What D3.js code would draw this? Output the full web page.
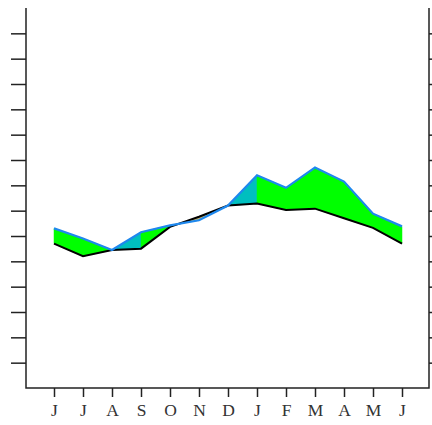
<!DOCTYPE html>
<html>
<head>
<meta charset="utf-8">
<script src="https://cdn.jsdelivr.net/npm/d3@7"></script>
<style>
  body { margin: 0; background: #fff; }
  svg { display: block; }
</style>
</head>
<body>
<script>
const width = 432;
const height = 425;
const frameL = 26, frameR = 429, frameT = 8, frameB = 388;

const months = ["J", "J", "A", "S", "O", "N", "D", "J", "F", "M", "A", "M", "J"];
const upper = [6.3, 5.9, 5.45, 6.15, 6.42, 6.62, 7.2, 8.4, 7.9, 8.7, 8.15, 6.88, 6.38];
const lower = [5.7, 5.2, 5.45, 5.5, 6.36, 6.76, 7.2, 7.28, 7.03, 7.08, 6.7, 6.32, 5.7];
const yTicks = d3.range(1, 15);

const colAbove = "#00ff00";
const colTie = "#00bfbf";
const colBelow = "#c8b46a";

const x = d3.scaleLinear().domain([0, months.length - 1]).range([54, 402]);
const y = d3.scaleLinear().domain([0, 15]).range([frameB, frameT]);

const svg = d3.select("body").append("svg")
    .attr("width", width)
    .attr("height", height);

const area = d3.area()
    .x(d => x(d.i))
    .y0(d => y(d.b))
    .y1(d => y(d.a));

const pt = (i, t) => ({
    i: i + t,
    a: upper[i] + (upper[i + 1] - upper[i]) * t,
    b: lower[i] + (lower[i + 1] - lower[i]) * t
});

// fill between the two curves, one segment at a time
const pieces = [];
for (let i = 0; i < months.length - 1; i++) {
    const d0 = upper[i] - lower[i];
    const d1 = upper[i + 1] - lower[i + 1];
    if (d0 === 0) {
        pieces.push({pts: [pt(i, 0), pt(i, 1)], fill: colTie});
    } else if (d0 * d1 < 0) {
        const t = d0 / (d0 - d1);
        pieces.push({pts: [pt(i, 0), pt(i, t)], fill: d0 > 0 ? colAbove : colBelow});
        pieces.push({pts: [pt(i, t), pt(i, 1)], fill: d1 > 0 ? colAbove : colBelow});
    } else {
        pieces.push({pts: [pt(i, 0), pt(i, 1)], fill: d0 > 0 ? colAbove : colBelow});
    }
}

svg.append("g").selectAll("path")
    .data(pieces)
    .join("path")
    .attr("d", d => area(d.pts))
    .attr("fill", d => d.fill)
    .attr("stroke", d => d.fill)
    .attr("stroke-width", 0.5);

const line = d3.line().x((d, i) => x(i)).y(d => y(d));

svg.append("path")
    .attr("d", line(lower))
    .attr("fill", "none")
    .attr("stroke", "#000")
    .attr("stroke-width", 2);

svg.append("path")
    .attr("d", line(upper))
    .attr("fill", "none")
    .attr("stroke", "#1e88ee")
    .attr("stroke-width", 2.2);

// Axes
const styleAxis = g => {
    g.select(".domain").remove();
    g.selectAll(".tick line").attr("stroke", "#222").attr("stroke-width", 1.5);
};

svg.append("g")
    .attr("transform", `translate(${frameL},0)`)
    .call(d3.axisLeft(y).tickValues(yTicks).tickSize(15).tickFormat(""))
    .call(styleAxis);

svg.append("g")
    .attr("transform", `translate(${frameR},0)`)
    .call(d3.axisRight(y).tickValues(yTicks).tickSize(15).tickFormat(""))
    .call(styleAxis);

svg.append("g")
    .attr("transform", `translate(0,${frameB})`)
    .call(d3.axisBottom(x).tickValues(d3.range(months.length)).tickSize(9).tickPadding(7)
        .tickFormat(i => months[i]))
    .call(styleAxis)
    .call(g => g.selectAll("text")
        .attr("fill", "#333")
        .style("font-family", "'Liberation Serif', serif")
        .style("font-size", "17.5px"));

svg.append("path")
    .attr("d", `M${frameL},${frameT}V${frameB}H${frameR}V${frameT}`)
    .attr("fill", "none")
    .attr("stroke", "#222")
    .attr("stroke-width", 1.5);
</script>
</body>
</html>
